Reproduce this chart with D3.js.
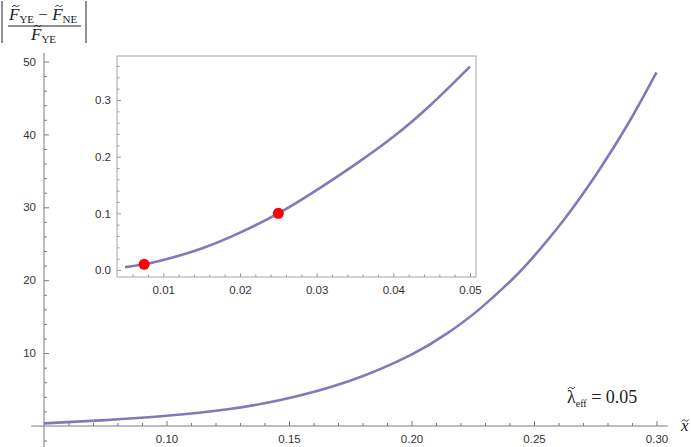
<!DOCTYPE html>
<html>
<head>
<meta charset="utf-8">
<script src="https://cdn.jsdelivr.net/npm/d3@7"></script>
<style>
  body { margin: 0; background: #fff; }
  svg { display: block; }
  .tk text { font-family: "Liberation Sans", Arial, sans-serif; font-size: 11.5px; fill: #333; }
  .tk line { stroke: #7a7a7a; }
  .itk line { stroke: #9a9a9a; }
  .math { font-family: "Liberation Serif", "DejaVu Serif", serif; fill: #222; }
</style>
</head>
<body>
<div id="chart"></div>
<script>
// main curve |F_YE - F_NE| / F_YE against x
const mainX = [0.05, 0.075, 0.10, 0.125, 0.147, 0.174, 0.20, 0.215, 0.228, 0.242, 0.25, 0.262, 0.276, 0.289, 0.30]
const mainY = [0.36, 0.8, 1.4, 2.3, 3.6, 6.1, 9.8, 12.8, 16.1, 20.4, 23.3, 28.2, 34.8, 41.8, 48.5]
// inset, small x
const insetX = [0.005, 0.0075, 0.01, 0.015, 0.02, 0.025, 0.03, 0.035, 0.04, 0.045, 0.05]
const insetY = [0.005, 0.01, 0.0175, 0.038, 0.066, 0.1, 0.141, 0.186, 0.235, 0.293, 0.359]
// red marks
const markX = [0.0075, 0.025]
const markY = [0.01, 0.1]

const mainXTicks = [0.10, 0.15, 0.20, 0.25, 0.30]
const mainYTicks = [10, 20, 30, 40, 50]
const insetXTicks = [0.01, 0.02, 0.03, 0.04, 0.05]
const insetYTicks = [0.0, 0.1, 0.2, 0.3]

const width = 691, height = 447
const curveColor = '#8478bb'

const svg = d3.select('#chart').append('svg').attr('width', width).attr('height', height)

// scales of the main plot
const x = d3.scaleLinear().domain([0.05, 0.30]).range([44, 656.5])
const y = d3.scaleLinear().domain([0, 50]).range([426, 61.5])

// axis lines
svg.append('line').attr('x1', x(0.0448)).attr('x2', x(0.3046)).attr('y1', y(0)).attr('y2', y(0))
    .attr('stroke', '#7a7a7a').attr('stroke-width', 1)
svg.append('line').attr('x1', x(0.05)).attr('x2', x(0.05)).attr('y1', y(-2.9)).attr('y2', y(51.2))
    .attr('stroke', '#7a7a7a').attr('stroke-width', 1)

// x axis, majors + minors
let gx = svg.append('g').attr('class', 'tk').attr('transform', `translate(0, ${y(0)})`)
    .call(d3.axisBottom(x).tickValues(mainXTicks).tickSize(-5).tickPadding(9).tickFormat(d3.format('.2f')))
gx.select('.domain').remove()
let xMinor = d3.range(6, 31).filter(i => i % 5 != 0).map(i => i / 100)
let gxm = svg.append('g').attr('class', 'tk').attr('transform', `translate(0, ${y(0)})`)
    .call(d3.axisBottom(x).tickValues(xMinor).tickSize(-3).tickFormat(''))
gxm.select('.domain').remove()

// y axis
let gy = svg.append('g').attr('class', 'tk').attr('transform', `translate(${x(0.05)}, 0)`)
    .call(d3.axisLeft(y).tickValues(mainYTicks).tickSize(-5).tickPadding(8))
gy.select('.domain').remove()
let yMinor = d3.range(-2, 51, 2).filter(v => v % 10 != 0)
let gym = svg.append('g').attr('class', 'tk').attr('transform', `translate(${x(0.05)}, 0)`)
    .call(d3.axisLeft(y).tickValues(yMinor).tickSize(-3).tickFormat(''))
gym.select('.domain').remove()

// main curve
const line = d3.line().x(d => x(d[0])).y(d => y(d[1])).curve(d3.curveNatural)
svg.append('path').datum(d3.zip(mainX, mainY)).attr('d', line)
    .attr('fill', 'none').attr('stroke', curveColor).attr('stroke-width', 2.6)

// ---- inset ----
const ix = d3.scaleLinear().domain([0.01, 0.05]).range([163.3, 470])
const iy = d3.scaleLinear().domain([0, 0.3]).range([270, 100])
const ileft = 117, iright = 476, itop = 56, ibottom = 277

svg.append('rect').attr('x', ileft).attr('y', itop).attr('width', iright - ileft).attr('height', ibottom - itop)
    .attr('fill', '#fff').attr('stroke', '#a5a5a5').attr('stroke-width', 1)

let igx = svg.append('g').attr('class', 'tk itk').attr('transform', `translate(0, ${ibottom})`)
    .call(d3.axisBottom(ix).tickValues(insetXTicks).tickSize(-4).tickPadding(9).tickFormat(d3.format('.2f')))
igx.select('.domain').remove()
let ixMinor = d3.range(6, 51, 2).filter(i => i % 10 != 0).map(i => i / 1000)
let igxm = svg.append('g').attr('class', 'tk itk').attr('transform', `translate(0, ${ibottom})`)
    .call(d3.axisBottom(ix).tickValues(ixMinor).tickSize(-2.5).tickFormat(''))
igxm.select('.domain').remove()

let igy = svg.append('g').attr('class', 'tk itk').attr('transform', `translate(${ileft}, 0)`)
    .call(d3.axisLeft(iy).tickValues(insetYTicks).tickSize(-4).tickPadding(6).tickFormat(d3.format('.1f')))
igy.select('.domain').remove()
let iyMinor = d3.range(2, 37, 2).filter(i => i % 10 != 0).map(i => i / 100)
let igym = svg.append('g').attr('class', 'tk itk').attr('transform', `translate(${ileft}, 0)`)
    .call(d3.axisLeft(iy).tickValues(iyMinor).tickSize(-2.5).tickFormat(''))
igym.select('.domain').remove()

const iline = d3.line().x(d => ix(d[0])).y(d => iy(d[1])).curve(d3.curveNatural)
svg.append('path').datum(d3.zip(insetX, insetY)).attr('d', iline)
    .attr('fill', 'none').attr('stroke', curveColor).attr('stroke-width', 2.6)

svg.selectAll('circle.mark').data(d3.zip(markX, markY)).join('circle').attr('class', 'mark')
    .attr('cx', d => ix(d[0])).attr('cy', d => iy(d[1])).attr('r', 5.5).attr('fill', '#ff0000')

// ---- labels ----
// draws a small tilde over character i of a text element
function tilde(textSel, i, baseline, rise, shift) {
    const ext = textSel.node().getExtentOfChar(i)
    const cx = ext.x + ext.width / 2 + shift, cy = baseline - rise
    svg.append('path')
        .attr('d', `M${cx - 3.5},${cy + 1} C${cx - 2.2},${cy - 1.2} ${cx - 1},${cy - 0.8} ${cx},${cy} S${cx + 2.2},${cy + 1.2} ${cx + 3.5},${cy - 1}`)
        .attr('fill', 'none').attr('stroke', '#222').attr('stroke-width', 0.9)
}

// y label: |(F_YE - F_NE) / F_YE|
let yl = svg.append('g')
yl.append('line').attr('x1', 2).attr('x2', 2).attr('y1', 1).attr('y2', 43).attr('stroke', '#222').attr('stroke-width', 1)
yl.append('line').attr('x1', 86).attr('x2', 86).attr('y1', 1).attr('y2', 43).attr('stroke', '#222').attr('stroke-width', 1)
yl.append('line').attr('x1', 8).attr('x2', 81).attr('y1', 26).attr('y2', 26).attr('stroke', '#222').attr('stroke-width', 1)
let num = yl.append('text').attr('class', 'math').attr('x', 9).attr('y', 20).style('font-size', '17px')
num.append('tspan').style('font-style', 'italic').text('F')
num.append('tspan').attr('dy', 3).style('font-size', '11px').text('YE')
num.append('tspan').attr('dy', -3).text(' \u2212 ')
num.append('tspan').style('font-style', 'italic').text('F')
num.append('tspan').attr('dy', 3).style('font-size', '11px').text('NE')
tilde(num, 0, 20, 14, 1.5)
tilde(num, 6, 20, 14, 1.5)
let den = yl.append('text').attr('class', 'math').attr('x', 31).attr('y', 40).style('font-size', '17px')
den.append('tspan').style('font-style', 'italic').text('F')
den.append('tspan').attr('dy', 3).style('font-size', '11px').text('YE')
tilde(den, 0, 40, 14, 1.5)

// x label
let xl = svg.append('text').attr('class', 'math').attr('x', 681).attr('y', 431).style('font-size', '17px')
    .style('font-style', 'italic').text('x')
tilde(xl, 0, 431, 10.5, 0.5)

// lambda annotation
let lam = svg.append('text').attr('class', 'math').attr('x', 567).attr('y', 403).style('font-size', '18px')
lam.append('tspan').text('\u03bb')
lam.append('tspan').attr('dy', 3.5).style('font-size', '10px').text('eff')
lam.append('tspan').attr('dy', -3.5).text(' = 0.05')
tilde(lam, 0, 403, 15, 0)
</script>
</body>
</html>
